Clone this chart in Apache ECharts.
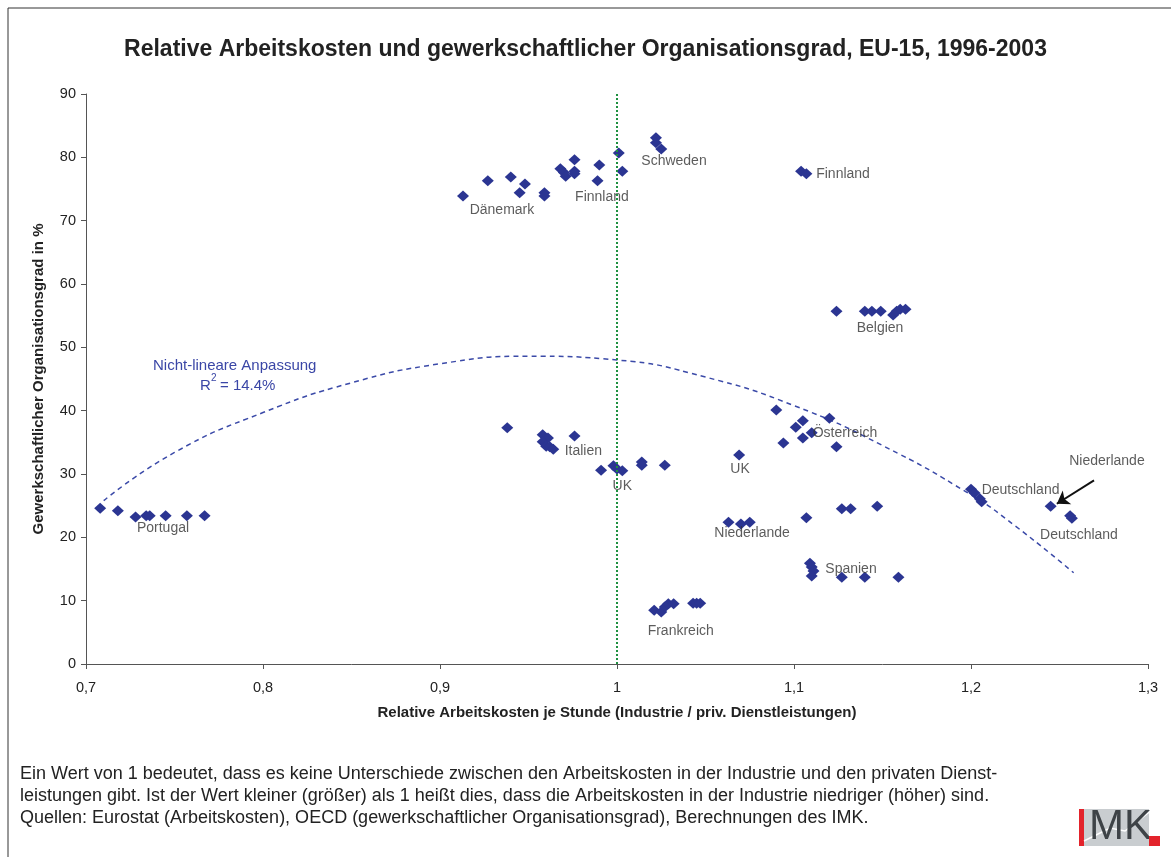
<!DOCTYPE html>
<html>
<head>
<meta charset="utf-8">
<script src="https://cdn.jsdelivr.net/npm/echarts@6/dist/echarts.min.js"></script>
<style>
  html, body { margin: 0; padding: 0; background: #fff; }
  #chart { width: 1171px; height: 857px; }
</style>
</head>
<body>
<div id="chart"></div>
<script>
  // relative Arbeitskosten (x) / Organisationsgrad in % (y), je Land
  const portugal = [[0.708, 24.6], [0.718, 24.2], [0.728, 23.2], [0.734, 23.4], [0.736, 23.4], [0.745, 23.4], [0.757, 23.4], [0.767, 23.4]]
  const daenemark = [[0.913, 73.9], [0.927, 76.3], [0.94, 76.9], [0.948, 75.8], [0.945, 74.4], [0.959, 74.4], [0.959, 73.9]]
  const finnland1 = [[0.968, 78.2], [0.97, 77.6], [0.971, 77.0], [0.976, 79.6], [0.976, 77.8], [0.976, 77.4], [0.99, 78.8], [0.989, 76.3]]
  const schweden = [[1.001, 80.7], [1.003, 77.8], [1.022, 83.1], [1.022, 82.3], [1.025, 81.3]]
  const finnland2 = [[1.104, 77.8], [1.107, 77.4]]
  const belgien = [[1.124, 55.7], [1.14, 55.7], [1.144, 55.7], [1.149, 55.7], [1.156, 55.1], [1.158, 55.7], [1.16, 56.0], [1.163, 56.0]]
  const italien = [[0.938, 37.3], [0.958, 36.2], [0.961, 35.7], [0.958, 35.1], [0.96, 34.4], [0.962, 34.3], [0.964, 33.9], [0.976, 36.0]]
  const uk1 = [[0.991, 30.6], [0.998, 31.3], [1.0, 30.8], [1.003, 30.5], [1.014, 31.9], [1.014, 31.4], [1.027, 31.4]]
  const oesterreich = [[1.09, 40.1], [1.094, 34.9], [1.101, 37.4], [1.105, 38.4], [1.105, 35.7], [1.11, 36.5], [1.12, 38.8], [1.124, 34.3]]
  const uk2 = [[1.069, 33.0]]
  const niederlande1 = [[1.063, 22.4], [1.07, 22.1], [1.075, 22.4], [1.107, 23.1], [1.127, 24.5], [1.132, 24.5], [1.147, 24.9]]
  const spanien = [[1.109, 15.9], [1.11, 15.3], [1.111, 14.7], [1.11, 13.9], [1.127, 13.7], [1.14, 13.7], [1.159, 13.7]]
  const frankreich = [[1.021, 8.5], [1.025, 8.2], [1.027, 9.0], [1.029, 9.5], [1.032, 9.5], [1.043, 9.6], [1.045, 9.6], [1.047, 9.6]]
  const deutschland1 = [[1.2, 27.6], [1.202, 27.0], [1.205, 26.1], [1.206, 25.6]]
  const niederlande2 = [[1.245, 24.9]]
  const deutschland2 = [[1.256, 23.4], [1.257, 23.0]]

  // nicht-lineare Anpassung
  const fitX = [0.71, 0.75, 0.8, 0.85, 0.9, 0.95, 1.0, 1.05, 1.1, 1.15, 1.2, 1.225, 1.258]
  const fitY = [25.8, 33.4, 39.7, 44.4, 47.4, 48.6, 48.0, 45.3, 40.8, 34.5, 26.7, 21.8, 14.4]

  // Länderbeschriftungen
  const labelNames = ['Dänemark', 'Finnland', 'Schweden', 'Finnland', 'Belgien', 'Portugal', 'Italien', 'UK', 'UK',
    'Österreich', 'Niederlande', 'Spanien', 'Frankreich', 'Deutschland', 'Deutschland', 'Niederlande']
  const labelX = [0.935, 0.9915, 1.0322, 1.1277, 1.1486, 0.7435, 0.981, 1.003, 1.0695, 1.1288, 1.0763, 1.1322, 1.036, 1.228, 1.261, 1.2768]
  const labelY = [71.6, 73.7, 79.4, 77.4, 53.1, 21.5, 33.6, 28.1, 30.8, 36.5, 20.7, 15.0, 5.2, 27.5, 20.4, 32.1]

  const points = [].concat(portugal, daenemark, finnland1, schweden, finnland2, belgien, italien, uk1,
    oesterreich, uk2, niederlande1, spanien, frankreich, deutschland1, niederlande2, deutschland2)

  const font = "'Liberation Sans', Arial, sans-serif"
  const fmt = v => String(+v.toFixed(1)).replace('.', ',')
  const blue = '#3a46a6'

  const chart = echarts.init(document.getElementById('chart'))
  chart.setOption({
    animation: false,
    textStyle: { fontFamily: font },
    title: {
      text: 'Relative Arbeitskosten und gewerkschaftlicher Organisationsgrad, EU-15, 1996-2003',
      left: 'center',
      top: 33,
      textStyle: { fontSize: 23, fontWeight: 'bold', color: '#222', fontFamily: font }
    },
    grid: { left: 86, right: 23, top: 94, bottom: 193 },
    xAxis: {
      type: 'value',
      min: 0.7,
      max: 1.3,
      interval: 0.1,
      name: 'Relative Arbeitskosten je Stunde (Industrie / priv. Dienstleistungen)',
      nameLocation: 'middle',
      nameGap: 41,
      nameTextStyle: { fontSize: 15, fontWeight: 'bold', color: '#222' },
      axisLine: { lineStyle: { color: '#555' } },
      axisTick: { length: 5, lineStyle: { color: '#555' } },
      axisLabel: { formatter: fmt, fontSize: 14.5, color: '#222', margin: 16 },
      splitLine: { show: false }
    },
    yAxis: {
      type: 'value',
      min: 0,
      max: 90,
      interval: 10,
      name: 'Gewerkschaftlicher Organisationsgrad in %',
      nameLocation: 'middle',
      nameGap: 40,
      nameTextStyle: { fontSize: 15, fontWeight: 'bold', color: '#222' },
      axisLine: { show: true, lineStyle: { color: '#555' } },
      axisTick: { show: true, length: 5, lineStyle: { color: '#555' } },
      axisLabel: { fontSize: 14.5, color: '#222', margin: 10 },
      splitLine: { show: false }
    },
    series: [
      {
        type: 'line',
        data: fitX.map((x, i) => [x, fitY[i]]),
        smooth: true,
        symbol: 'none',
        lineStyle: { color: '#3b4aa8', width: 1.5, type: [5, 4] },
        z: 2
      },
      {
        type: 'scatter',
        data: points,
        symbol: 'diamond',
        symbolSize: [12, 11],
        itemStyle: { color: '#2b3592', opacity: 1 },
        z: 3,
        markLine: {
          silent: true,
          symbol: 'none',
          label: { show: false },
          data: [
            { xAxis: 1, lineStyle: { color: '#1e9040', type: [2, 2], width: 2 } },
            [
              { coord: [1.2695, 29.0], symbol: 'none' },
              { coord: [1.2485, 25.3], symbol: 'arrow', symbolSize: 12 }
            ]
          ],
          lineStyle: { color: '#111', width: 2, type: 'solid' }
        }
      },
      {
        type: 'scatter',
        data: labelNames.map((n, i) => ({ value: [labelX[i], labelY[i]], name: n })),
        symbolSize: 0,
        silent: true,
        label: {
          show: true,
          position: 'inside',
          formatter: p => p.name,
          fontSize: 14,
          color: '#333',
          fontFamily: font
        },
        z: 4
      }
    ],
    graphic: [
      { type: 'rect', shape: { x: 8, y: 8, width: 1200, height: 900 }, style: { fill: 'none', stroke: '#333', lineWidth: 1 }, silent: true },
      { type: 'text', left: 153, top: 358, style: { text: 'Nicht-lineare Anpassung', fill: blue, font: '15px ' + font } },
      { type: 'text', left: 200, top: 378, style: { text: 'R', fill: blue, font: '15px ' + font } },
      { type: 'text', left: 211, top: 373, style: { text: '2', fill: blue, font: '10px ' + font } },
      { type: 'text', left: 220, top: 378, style: { text: '= 14.4%', fill: blue, font: '15px ' + font } },
      {
        type: 'text', left: 20, top: 763,
        style: {
          text: 'Ein Wert von 1 bedeutet, dass es keine Unterschiede zwischen den Arbeitskosten in der Industrie und den privaten Dienst-\n' +
            'leistungen gibt. Ist der Wert kleiner (größer) als 1 heißt dies, dass die Arbeitskosten in der Industrie niedriger (höher) sind.\n' +
            'Quellen: Eurostat (Arbeitskosten), OECD (gewerkschaftlicher Organisationsgrad), Berechnungen des IMK.',
          fill: '#222',
          font: '18px ' + font,
          lineHeight: 22
        }
      },
      // IMK Logo
      { type: 'rect', shape: { x: 1079, y: 809, width: 5, height: 37 }, style: { fill: '#e3232b' } },
      { type: 'rect', shape: { x: 1084, y: 809, width: 65, height: 37 }, style: { fill: '#c9cdd0' } },
      { type: 'polyline', shape: { points: [[1084, 841], [1110, 828], [1125, 831], [1152, 810]] }, style: { stroke: '#fff', lineWidth: 1.5, fill: 'none' } },
      { type: 'text', left: 1089, top: 806, style: { text: 'MK', fill: '#3e4347', font: '42px ' + font } },
      { type: 'rect', shape: { x: 1149, y: 836, width: 11, height: 10 }, style: { fill: '#e3232b' } }
    ]
  })
</script>
</body>
</html>
